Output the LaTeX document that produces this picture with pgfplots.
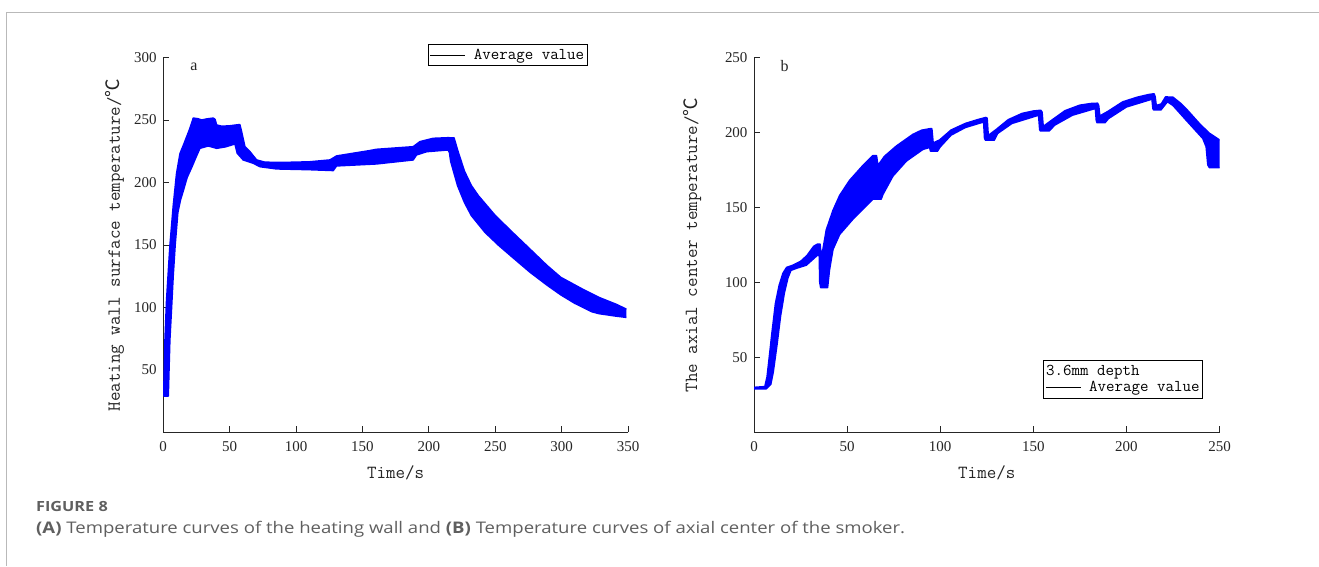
\documentclass[border=0pt]{standalone}
\usepackage{pgfplots}
\pgfplotsset{compat=1.18}
\usepgfplotslibrary{fillbetween}
\usepackage{fontspec}
\setmainfont{Liberation Serif}
\newfontfamily\cjk{Noto Sans CJK SC}
\newfontfamily\capfont[FakeStretch=1.16]{Open Sans}

\definecolor{axisgray}{RGB}{38,38,38}
\definecolor{capgray}{RGB}{95,95,95}
\definecolor{framegray}{RGB}{185,185,185}
\definecolor{bandblue}{RGB}{0,0,255}

\newcommand{\degC}{{\cjk ℃}}

\pgfplotsset{
  panel/.style={
    scale only axis, height=375pt,
    axis x line*=bottom, axis y line*=left,
    axis line style={-, axisgray, line width=0.9pt},
    tick align=inside, major tick length=6pt,
    tick style={axisgray, line width=0.8pt},
    every tick label/.append style={font=\fontsize{15}{15}\selectfont, text=axisgray},
    /pgf/number format/assume math mode=true,
    label style={font=\ttfamily\fontsize{18.5}{18.5}\selectfont, text=axisgray},
    xlabel style={at={(axis description cs:0.5,-0.108)}, anchor=center},
    xticklabel style={yshift=-6pt},
    yticklabel style={xshift=-3pt},
    legend cell align=left,
    legend style={draw=black, line width=0.9pt, fill=white,
      font=\ttfamily\fontsize{16.5}{16.5}\selectfont, text=black,
      inner xsep=2pt, inner ysep=2pt,
      nodes={inner sep=1pt, text height=11.5pt, text depth=3.5pt},
      /tikz/every odd column/.append style={column sep=7pt}},
    legend image code/.code={\draw[black, line width=0.7pt] (0pt,0pt) -- (35pt,0pt);},
  },
  band/.style={draw=bandblue, line width=1.5pt, line join=round, forget plot},
}

\begin{document}
\begin{tikzpicture}
\draw[framegray, line width=1pt] (7pt,-566pt) -- (7pt,-12.3pt) -- (1319pt,-12.3pt);

% ---------------- (a) heating wall surface ----------------
\begin{axis}[panel,
  at={(163.3pt,-432.5pt)}, anchor=south west, width=465pt,
  xmin=0, xmax=350, ymin=0, ymax=300,
  xtick={0,50,...,350}, ytick={50,100,...,300},
  xlabel={Time/s},
  ylabel={Heating wall surface temperature/\degC},
  ylabel style={at={(axis description cs:-0.104,0.5)}, anchor=center},
  legend style={at={(0.741,1.0056)}, anchor=center},
]
\addplot[band, name path=aU] table {
x y
0.3 29
1.3 74
2.5 106
5 149
7.5 181
10 207
12.6 223
16 232
20 243
22.6 251.5
26 251
28.9 250
32.7 250.8
37.6 251.5
39 250.5
40.2 246
44 245
50 245.3
55 246
57.7 246.3
59 240.6
61.5 228.6
65.3 224.6
70.3 218
76.5 216.2
90.3 216
110 216.5
125.5 218
130.5 221.2
155.6 225.5
160.6 226.5
188.2 228.6
193.2 232.6
203.2 235.3
214.5 235.8
219 235.6
221.6 226
226.8 209
232 197.5
237.2 189.5
250 173.5
263 160
276 146.8
289 133.5
299.4 124
315 115
328 108
341 102.5
348.7 98.6
};
\addplot[band, name path=aL] table {
x y
0.3 29
3.8 29
5 74
6.3 100
7.5 125
9 150
11 176
13 186
15 193
18 204
21.4 212
25 221
27.6 227.3
33.9 229.2
40.2 227.3
47 228.5
54 230.8
55.7 223.4
60.2 218
67.7 215.4
72.8 212.6
85.4 210.8
110 210.2
128 209.5
130.5 213.2
160.6 214.8
188.2 218
190.7 222
198.3 224.6
214.5 226
215.5 224
216.4 217
221.6 197.5
226.8 184
232 173.5
242.3 160
252.7 149.5
263.1 140
276 128.3
289 117.8
299.4 110
309.8 103.3
322.8 96.5
328 95
341 93
348.7 92
};
\addplot[bandblue, forget plot] fill between[of=aU and aL];
\addlegendimage{black}
\addlegendentry{Average value}
\node[font=\fontsize{16}{16}\selectfont, text=axisgray] at (rel axis cs:0.066,0.975) {a};
\end{axis}

% ---------------- (b) axial centre ----------------
\begin{axis}[panel,
  at={(754.3pt,-432.5pt)}, anchor=south west, width=465.7pt,
  xmin=0, xmax=250, ymin=0, ymax=250,
  xtick={0,50,...,250}, ytick={50,100,...,250},
  xlabel={Time/s},
  ylabel={The axial center temperature/\degC},
  ylabel style={at={(axis description cs:-0.1327,0.5)}, anchor=center},
  legend style={at={(0.7926,0.142)}, anchor=center},
]
\addplot[band, name path=bU] table {
x y
0 30
5.8 30.5
7 37
8 48
9.6 66
11.5 86
13.5 98
15.5 106
17.5 110
21 111.5
25 114
28.5 118
32 124
34 125.5
35.5 125.5
36 118
37 122
38.8 135
42.4 148
46 158
51.3 168
58.5 178
63.8 184.5
65.8 184.5
66.5 178
68.3 181
70 184
76.4 190.9
85.3 198.7
90 201.5
94.5 202.5
95.5 202.5
96.2 193
99.7 195
105.8 201.6
113.5 206
120 208.5
124.5 210
125.2 209.5
125.8 198
130.1 202
136.5 208.5
144 212.7
150 214.3
154 214.8
154.7 213.5
155.3 204
159.7 208
167 214.5
175 218.2
181 219.3
184.5 219.5
185.1 218
185.7 211
190 214
198 220.4
205.8 223.5
212 225.3
214.8 225.8
215.4 224
216 218
218.7 219
221 223.7
225 223.5
229 219.5
233 214.5
239.5 205.5
244.5 199.5
250 195
};
\addplot[band, name path=bL] table {
x y
0 29
6.5 29
9 32
10.3 40
12.3 58
14.3 78
16.3 93
18.2 103
19.8 108
23 109.5
28.1 111.5
33.5 117.5
35 119
35.3 100
35.8 96.5
39.5 96.5
40.5 108
42.4 122
46 132
53 142
60.2 151
63.8 155.5
68.3 155.5
69.2 158.6
74.6 170.9
81.8 180.9
90.7 188.7
94.3 190
94.8 187.5
98.5 187.5
100 190.4
105.8 198.2
113.5 203.3
123.3 207
123.8 196
124.3 194.8
129 194.8
130.8 199.3
138.5 206
152.8 211.5
153.4 202
153.8 201
158.5 201
161.5 204.9
171 211.5
183.3 216
183.8 208
184.2 206.5
188.5 206.5
190.4 209.3
200 217
213.7 222.2
214.2 216
214.6 215
218.5 215
222 220.5
225 218
232 208.3
241 196
242.8 190.5
243.7 178.3
244.6 176.5
250 176.5
};
\addplot[bandblue, forget plot] fill between[of=bU and bL];
\addlegendimage{legend image code/.code={\node[overlay, anchor=base west, inner sep=0pt, yshift=-5pt] at (0pt,0pt) {3.6mm depth};}}
\addlegendentry{\vphantom{Ap}}
\addlegendimage{black}
\addlegendentry{Average value}
\node[font=\fontsize{16}{16}\selectfont, text=axisgray] at (rel axis cs:0.066,0.977) {b};
\end{axis}

% ---------------- caption ----------------
\node[anchor=base west, inner sep=0pt, text=capgray, font=\capfont\bfseries\fontsize{14}{14}\selectfont] at (36pt,-511.7pt) {FIGURE 8};
\node[anchor=base west, inner sep=0pt, text=capgray, font=\capfont\fontsize{16}{16}\selectfont] at (36pt,-533.3pt)
  {\textbf{(A)} Temperature curves of the heating wall and \textbf{(B)} Temperature curves of axial center of the smoker.};

% page extent
\path (0pt,0pt) rectangle (1319pt,-566pt);
\end{tikzpicture}
\end{document}
